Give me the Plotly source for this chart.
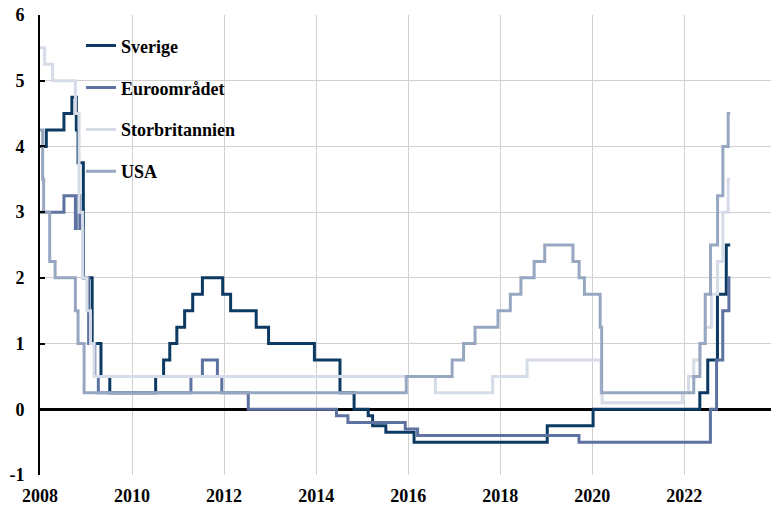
import plotly.graph_objects as go

# Policy rates (step changes), percent
sverige_dates = ["2008-01-01", "2008-02-20", "2008-07-09", "2008-09-10", "2008-10-15", "2008-10-29",
                 "2008-12-10", "2009-02-18", "2009-04-29", "2009-07-08", "2010-07-07", "2010-09-08",
                 "2010-10-27", "2010-12-22", "2011-02-22", "2011-04-27", "2011-07-13", "2011-12-21",
                 "2012-02-22", "2012-09-12", "2012-12-19", "2013-12-18", "2014-07-09", "2014-10-29",
                 "2015-02-18", "2015-03-25", "2015-07-08", "2016-02-17", "2019-01-09", "2020-01-08",
                 "2022-05-04", "2022-07-06", "2022-09-21", "2022-11-30", "2022-12-31"]
sverige_rates = [4.00, 4.25, 4.50, 4.75, 4.25, 3.75,
                 2.00, 1.00, 0.50, 0.25, 0.50, 0.75,
                 1.00, 1.25, 1.50, 1.75, 2.00, 1.75,
                 1.50, 1.25, 1.00, 0.75, 0.25, 0.00,
                 -0.10, -0.25, -0.35, -0.50, -0.25, 0.00,
                 0.25, 0.75, 1.75, 2.50, 2.50]

euro_dates = ["2008-01-01", "2008-07-09", "2008-10-08", "2008-10-15", "2008-11-12", "2008-12-10",
              "2009-01-21", "2009-03-11", "2009-04-08", "2011-04-13", "2011-07-13", "2011-11-09",
              "2011-12-14", "2012-07-11", "2014-06-11", "2014-09-10", "2015-12-09", "2016-03-16",
              "2019-09-18", "2022-07-27", "2022-09-14", "2022-11-02", "2022-12-21", "2022-12-31"]
euro_rates = [3.00, 3.25, 2.75, 3.25, 2.75, 2.00,
              1.00, 0.50, 0.25, 0.50, 0.75, 0.50,
              0.25, 0.00, -0.10, -0.20, -0.30, -0.40,
              -0.50, 0.00, 0.75, 1.50, 2.00, 2.00]

uk_dates = ["2008-01-01", "2008-02-07", "2008-04-10", "2008-10-08", "2008-11-06", "2008-12-04",
            "2009-01-08", "2009-02-05", "2009-03-05", "2016-08-04", "2017-11-02", "2018-08-02",
            "2020-03-11", "2020-03-19", "2021-12-16", "2022-02-03", "2022-03-17", "2022-05-05",
            "2022-06-16", "2022-08-04", "2022-09-22", "2022-11-03", "2022-12-15", "2022-12-31"]
uk_rates = [5.50, 5.25, 5.00, 4.50, 3.00, 2.00,
            1.50, 1.00, 0.50, 0.25, 0.50, 0.75,
            0.25, 0.10, 0.25, 0.50, 0.75, 1.00,
            1.25, 1.75, 2.25, 3.00, 3.50, 3.50]

usa_dates = ["2008-01-01", "2008-01-22", "2008-01-30", "2008-03-18", "2008-04-30", "2008-10-08",
             "2008-10-29", "2008-12-16", "2015-12-17", "2016-12-15", "2017-03-16", "2017-06-15",
             "2017-12-14", "2018-03-22", "2018-06-14", "2018-09-27", "2018-12-20", "2019-08-01",
             "2019-09-19", "2019-10-31", "2020-03-04", "2020-03-16", "2022-03-17", "2022-05-05",
             "2022-06-16", "2022-07-28", "2022-09-22", "2022-11-03", "2022-12-15", "2022-12-31"]
usa_rates = [4.25, 3.50, 3.00, 2.25, 2.00, 1.50,
             1.00, 0.25, 0.50, 0.75, 1.00, 1.25,
             1.50, 1.75, 2.00, 2.25, 2.50, 2.25,
             2.00, 1.75, 1.25, 0.25, 0.50, 1.00,
             1.75, 2.50, 3.25, 4.00, 4.50, 4.50]

series = [
    ("Sverige", sverige_dates, sverige_rates, "#0c3a63"),
    ("Euroområdet", euro_dates, euro_rates, "#5d72a0"),
    ("Storbritannien", uk_dates, uk_rates, "#d5dce8"),
    ("USA", usa_dates, usa_rates, "#97a7c2"),
]

y_ticks = [-1, 0, 1, 2, 3, 4, 5, 6]
y_tick_labels = ["-1", "0", "1", "2", "3", "4", "5", "6"]

FONT = "Liberation Serif, Times New Roman, serif"

fig = go.Figure()
for i, (name, d, r, c) in enumerate(series):
    fig.add_trace(go.Scatter(
        x=d, y=r, name=name, mode="lines", line=dict(color=c, width=3, shape="hv"),
        legendgroup=f"g{i}",
    ))

x_range = ["2008-01-01", "2023-11-20"]

fig.update_layout(
    width=771, height=507,
    margin=dict(l=40, r=0, t=15, b=32),
    paper_bgcolor="white", plot_bgcolor="white",
    font=dict(family=FONT, size=18, color="black", weight="bold"),
    showlegend=True,
    legend=dict(x=0.056, y=0.973, xanchor="left", yanchor="top", bgcolor="rgba(0,0,0,0)",
                font=dict(family=FONT, size=18, color="black", weight="bold"),
                tracegroupgap=15.5, itemwidth=30),
    xaxis=dict(type="date", range=x_range, tick0="2008-01-01", dtick="M24", tickformat="%Y",
               showgrid=True, gridcolor="#d0d0d0", gridwidth=1, showline=False, ticks="",
               zeroline=False, ticklabelstandoff=8, automargin=False, ticklabeloverflow="allow",
               tickfont=dict(family=FONT, size=18, color="black", weight="bold")),
    xaxis2=dict(type="date", overlaying="x", matches="x", anchor="free", position=1 / 7,
                tick0="2008-01-01", dtick="M24", ticks="inside", ticklen=5, tickwidth=2,
                tickcolor="black", showticklabels=False, showgrid=False, showline=False,
                zeroline=False),
    yaxis=dict(range=[-1, 6], tickvals=y_ticks, ticktext=y_tick_labels, showgrid=True,
               gridcolor="#d0d0d0", gridwidth=1, automargin=False, ticklabeloverflow="allow",
               zeroline=True, zerolinecolor="black", zerolinewidth=2.5,
               showline=True, linecolor="black", linewidth=2, ticks="inside", ticklen=5,
               tickwidth=2, tickcolor="black", ticklabelstandoff=10,
               tickfont=dict(family=FONT, size=18, color="black", weight="bold")),
)

# remove the browser's default 8px body margin so the figure fills the window exactly
fig.write_html("out.html", config={"displayModeBar": False},
               post_script="document.body.style.margin='0';")
